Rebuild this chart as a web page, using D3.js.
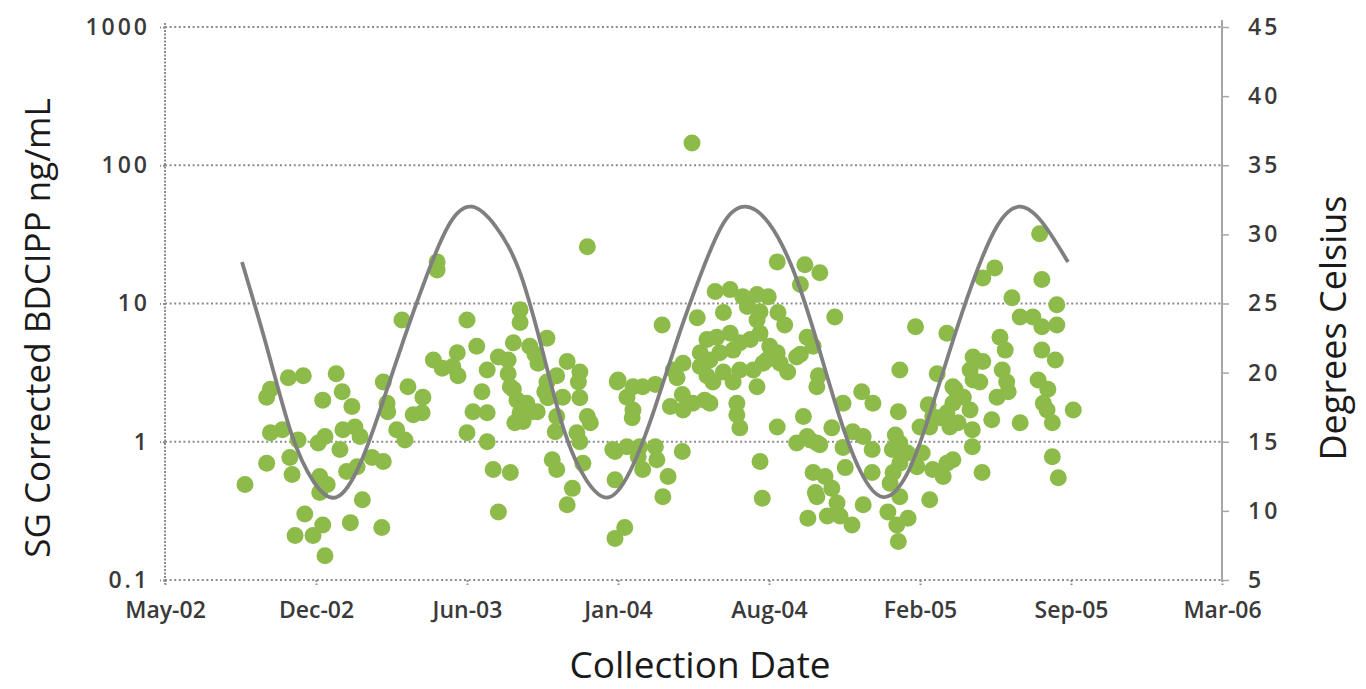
<!DOCTYPE html>
<meta charset="utf-8">
<style>
  body { margin: 0; background: #fff; }
  text { font-family: "Open Sans", sans-serif; }
  .tick text { font-size: 23px; font-weight: 600; fill: #3a3a3a; }
  .grid line { stroke: #8c8c8c; stroke-width: 2; stroke-dasharray: 2,2.6; }
  .dot { fill: #8dbb4a; }
  .temp { fill: none; stroke: #7f7f7f; stroke-width: 3.8; }
</style>
<body>
<svg id="chart" width="1366" height="689"></svg>
</body>
<script src="https://cdnjs.cloudflare.com/ajax/libs/d3/7.8.5/d3.min.js"></script>
<script>

// sample collection dates (Excel serial days) and SG corrected BDCIPP (ng/mL)
var sampleDates = [
  37499,37528,37533,37557,37577,37621,37603,37629,37642,37684,37717,37689,37690,37737,37724,37709,37756,37756,
  37528,37559,37562,37533,37549,37570,37597,37606,37626,37630,37646,37653,37713,37702,37599,37609,37599,37635,
  37649,37669,37684,37656,37579,37603,37640,37682,37566,37590,37606,37751,37763,37736,
  37783,37784,37777,37796,37867,37867,37809,37823,37838,37851,37858,37851,37880,37887,37903,37891,37930,37947,
  37945,37903,37900,37916,37997,37816,37804,37823,37854,37863,37876,37890,37867,37860,37871,37916,37914,37924,
  37947,37957,37961,37796,37823,37947,37910,37916,37951,37831,37854,37937,37930,37994,37994,37838,37957,37858,
  37904,37943,37883,
  37994,38007,37991,38010,38027,38048,38050,38031,38025,38084,38065,38058,38188,38191,38237,37998,38018,38031,
  38048,38010,38018,38017,38068,38084,38085,38098,38114,38121,38157,38157,38161,38211,38246,38085,38072,38077,
  38108,38117,38125,38139,38161,38179,38192,38215,38225,38237,38266,38264,38152,38184,38108,38121,38134,38152,
  38201,38211,38197,38117,38130,38148,38161,38175,38188,38251,38259,38242,38128,38148,38165,38184,38199,38171,
  38188,38184,38212,38221,38057,38104,38139,38211,38248,38268,38097,38255,38264,38259,38262,38252,38242,
  38288,38396,38438,38375,38425,38446,38324,38339,38299,38373,38413,38429,38442,38415,38402,38284,38251,38268,
  38312,38326,38338,38299,38369,38375,38365,38385,38375,38405,38398,38438,38433,38419,38302,38338,38366,38362,
  38275,38284,38264,38291,38278,38295,38311,38326,38375,38359,38371,38386,38415,38373,
  38562,38486,38502,38565,38525,38536,38553,38565,38585,38585,38509,38516,38565,38583,38473,38486,38512,38518,
  38520,38505,38469,38473,38482,38449,38460,38446,38469,38560,38573,38567,38572,38498,38536,38579,38607,38453,
  38472,38472,38579,38587,38485,38446,38419,38438
];
var bdcipp = [
  0.49,2.1,2.4,2.9,3.0,3.1,2.0,2.3,1.8,2.7,2.5,1.9,1.65,2.1,1.57,7.6,20,17.5,
  0.70,0.77,0.58,1.16,1.22,1.03,0.98,1.09,0.88,1.22,1.28,1.09,1.03,1.22,0.56,0.49,0.43,0.61,
  0.66,0.77,0.72,0.38,0.30,0.25,0.26,0.24,0.21,0.21,0.15,3.9,3.4,1.62,
  4.4,3.0,3.5,7.6,9.0,7.3,4.9,3.3,4.1,3.9,5.2,3.1,4.9,4.3,5.6,3.7,3.8,3.2,
  2.7,2.7,2.3,3.0,2.7,2.3,1.65,1.62,2.5,2.0,1.9,1.65,1.62,1.37,1.4,1.52,1.18,2.1,
  2.08,1.52,1.37,1.16,1.0,1.0,0.74,0.63,0.70,0.63,0.60,0.46,0.35,0.53,0.85,0.31,25.7,2.4,
  2.08,1.16,1.65,
  0.20,0.24,0.88,0.92,0.92,0.92,0.74,0.63,0.78,0.85,0.56,0.40,0.72,0.39,0.98,2.8,2.5,2.5,
  2.6,2.1,1.7,1.49,1.8,2.2,1.7,1.9,2.0,1.9,1.9,1.57,1.26,1.28,1.52,3.7,3.3,2.9,
  3.5,3.0,2.7,3.2,3.3,3.3,3.7,3.7,3.2,4.1,3.0,2.5,2.7,2.5,4.4,3.9,4.4,4.6,
  4.9,4.4,3.9,5.5,5.7,6.1,5.2,5.5,6.1,5.7,4.9,4.3,12.2,12.6,11.2,11.6,11.2,9.5,
  8.7,7.6,8.6,7.0,7.0,7.9,8.6,20,19.1,16.7,145,1.03,0.98,0.60,0.43,0.28,13.7,
  8.0,6.8,6.1,3.3,3.1,2.5,2.3,1.9,1.9,1.65,1.85,1.49,1.28,1.28,1.28,1.26,1.09,0.95,
  1.18,1.09,0.88,0.91,1.12,0.98,0.88,0.83,0.70,0.83,0.66,0.70,0.56,0.63,0.65,0.60,0.60,0.50,
  0.56,0.46,0.40,0.36,0.29,0.29,0.25,0.35,0.40,0.31,0.25,0.28,0.38,0.19,
  32,15.3,18.1,14.9,11.0,8.0,8.0,6.8,9.8,7.0,5.7,4.6,4.6,3.9,4.1,3.8,3.3,2.7,
  2.3,2.1,3.3,2.8,2.7,2.4,2.1,1.9,1.7,2.8,2.4,1.9,1.7,1.44,1.37,1.37,1.7,1.37,
  1.22,0.92,0.78,0.55,0.60,0.74,1.52,1.62
];

// temperature curve (degrees Celsius)
var tempDates = [
  "2002-08-27","2002-10-01","2002-11-01","2002-12-01",
  "2003-01-01","2003-02-01","2003-03-01","2003-04-01","2003-05-01","2003-06-01",
  "2003-07-01","2003-08-01","2003-09-01","2003-10-01","2003-11-01","2003-12-01",
  "2004-01-01","2004-02-01","2004-03-01","2004-04-01","2004-05-01","2004-06-01",
  "2004-07-01","2004-08-01","2004-09-01","2004-10-01","2004-11-01","2004-12-01",
  "2005-01-01","2005-02-01","2005-03-01","2005-04-01","2005-05-01","2005-06-01",
  "2005-07-01","2005-08-01","2005-09-05"
];
var tempC = [
  28.0,21.5,15.6,12.1,
  11.0,13.4,17.5,22.5,27.0,30.8,
  32.0,30.6,27.5,22.0,15.8,12.2,
  11.0,13.3,17.4,22.5,27.0,30.8,
  32.0,30.8,27.6,22.8,17.2,12.9,
  11.0,12.6,16.5,21.8,26.6,30.5,
  32.0,30.9,28.0
];

// axes
var xTickDates = [37392,37594,37796,37998,38200,38402,38604,38806];
var xTickLabels = ["May-02","Dec-02","Jun-03","Jan-04","Aug-04","Feb-05","Sep-05","Mar-06"];
var yLeftTicks = [0.1,1,10,100,1000];
var yRightTicks = [5,10,15,20,25,30,35,40,45];

function serialToDate(s) { return new Date(Date.UTC(1899, 11, 30) + s * 864e5); }

var svg = d3.select("#chart"),
    margin = {top: 27, right: 144, bottom: 109, left: 165},
    width = +svg.attr("width") - margin.left - margin.right,
    height = +svg.attr("height") - margin.top - margin.bottom,
    g = svg.append("g").attr("transform", "translate(" + margin.left + "," + margin.top + ")");

var x = d3.scaleUtc()
    .domain([serialToDate(xTickDates[0]), serialToDate(xTickDates[xTickDates.length - 1])])
    .range([0, width]);
var y = d3.scaleLog().domain([0.1, 1000]).range([height, 0]);
var y2 = d3.scaleLinear().domain([5, 45]).range([height, 0]);

// horizontal dotted gridlines
g.append("g")
    .attr("class", "grid")
    .selectAll("line")
    .data(yLeftTicks)
    .enter().append("line")
    .attr("x1", 0)
    .attr("x2", width)
    .attr("y1", function(d) { return y(d); })
    .attr("y2", function(d) { return y(d); });

// left axis (dotted line)
var yAxis = g.append("g")
    .call(d3.axisLeft(y).tickValues(yLeftTicks).tickFormat(d3.format("")).tickSize(5).tickPadding(10));
yAxis.select(".domain").remove();
yAxis.selectAll(".tick line").attr("stroke", "#8c8c8c").attr("stroke-width", 2).attr("stroke-dasharray", "2,2");
yAxis.selectAll(".tick text").style("letter-spacing", "3px");
g.append("line")
    .attr("x1", 0).attr("x2", 0).attr("y1", -4).attr("y2", height + 4)
    .attr("stroke", "#8c8c8c").attr("stroke-width", 2).attr("stroke-dasharray", "2,1.5");

// bottom axis
var xAxis = g.append("g")
    .attr("transform", "translate(0," + height + ")")
    .call(d3.axisBottom(x)
      .tickValues(xTickDates.map(serialToDate))
      .tickFormat(function(d, i) { return xTickLabels[i]; })
      .tickSize(5).tickPadding(17));
xAxis.select(".domain").remove();
xAxis.selectAll(".tick line").attr("stroke", "#8c8c8c").attr("stroke-width", 2).attr("stroke-dasharray", "2,1.5");

// right axis
var yAxis2 = g.append("g")
    .attr("transform", "translate(" + width + ",0)")
    .call(d3.axisRight(y2).tickValues(yRightTicks).tickSize(7).tickPadding(19));
yAxis2.select(".domain").attr("stroke", "#a6a6a6").attr("stroke-width", 2)
    .attr("d", "M0," + (-7) + "V" + (height + 2));
yAxis2.selectAll(".tick line").attr("stroke", "#a6a6a6").attr("stroke-width", 1.5);
yAxis2.selectAll(".tick text").style("letter-spacing", "3px");

// sample points
var points = sampleDates.map(function(s, i) { return {date: serialToDate(s), value: bdcipp[i]}; });
g.append("g")
    .selectAll("circle")
    .data(points)
    .enter().append("circle")
    .attr("class", "dot")
    .attr("cx", function(d) { return x(d.date); })
    .attr("cy", function(d) { return y(d.value); })
    .attr("r", 8.5);

// temperature line
var temps = tempDates.map(function(s, i) { return {date: new Date(s + "T00:00:00Z"), value: tempC[i]}; });
var line = d3.line()
    .curve(d3.curveNatural)
    .x(function(d) { return x(d.date); })
    .y(function(d) { return y2(d.value); });
g.append("path")
    .datum(temps)
    .attr("class", "temp")
    .attr("d", line);

// axis titles
svg.append("text")
    .attr("transform", "translate(38,328) rotate(-90)")
    .attr("text-anchor", "middle")
    .attr("dy", "0.35em")
    .style("font-size", "35px")
    .style("fill", "#1a1a1a")
    .text("SG Corrected BDCIPP ng/mL");

svg.append("text")
    .attr("transform", "translate(1333,328) rotate(-90)")
    .attr("text-anchor", "middle")
    .attr("dy", "0.35em")
    .style("font-size", "36px")
    .style("fill", "#1a1a1a")
    .text("Degrees Celsius");

svg.append("text")
    .attr("x", 700)
    .attr("y", 665)
    .attr("text-anchor", "middle")
    .attr("dy", "0.35em")
    .style("font-size", "37px")
    .style("fill", "#1a1a1a")
    .text("Collection Date");

</script>
